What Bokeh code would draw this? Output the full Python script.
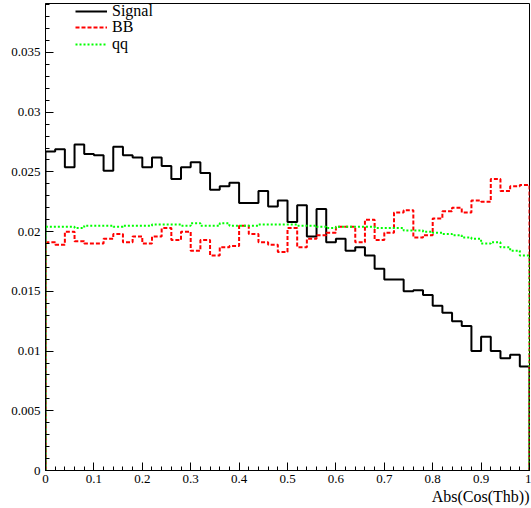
import numpy as np
from bokeh.plotting import figure
from bokeh.models import ColumnDataSource, FixedTicker, Legend, LegendItem, Title, Range1d
from bokeh.embed import file_html
from bokeh.resources import INLINE

# ---- data ----
x_min, x_max, n_bins = 0.0, 1.0, 50
signal = [0.0267, 0.0269, 0.0254, 0.0273, 0.0265, 0.0264, 0.0251, 0.0271, 0.0264, 0.0262,
          0.0254, 0.0262, 0.0255, 0.0244, 0.0254, 0.0258, 0.0249, 0.0235, 0.0238, 0.0241,
          0.0224, 0.0224, 0.0234, 0.0221, 0.0226, 0.0208, 0.0222, 0.0196, 0.0219, 0.0191,
          0.0194, 0.0184, 0.0187, 0.0180, 0.0169, 0.0160, 0.0160, 0.0150, 0.0151, 0.0147,
          0.0138, 0.0132, 0.0125, 0.0121, 0.0100, 0.0112, 0.0100, 0.0094, 0.0097, 0.0087]
bb = [0.0191, 0.0189, 0.0200, 0.0192, 0.0190, 0.0190, 0.0194, 0.0198, 0.0191, 0.0196,
      0.0190, 0.0196, 0.0203, 0.0193, 0.0200, 0.0184, 0.0193, 0.0180, 0.0187, 0.0188,
      0.0205, 0.0198, 0.0191, 0.0189, 0.0183, 0.0203, 0.0187, 0.0194, 0.0197, 0.0199,
      0.0204, 0.0204, 0.0191, 0.0210, 0.0193, 0.0199, 0.0216, 0.0218, 0.0195, 0.0197,
      0.0211, 0.0217, 0.0220, 0.0216, 0.0226, 0.0225, 0.0244, 0.0234, 0.0238, 0.0239]
qq = [0.0204, 0.0204, 0.0204, 0.0203, 0.0205, 0.0205, 0.0205, 0.0204, 0.0205, 0.0205,
      0.0205, 0.0206, 0.0206, 0.0206, 0.0205, 0.0207, 0.0205, 0.0205, 0.0207, 0.0205,
      0.0205, 0.0205, 0.0206, 0.0206, 0.0206, 0.0206, 0.0205, 0.0205, 0.0204, 0.0203,
      0.0204, 0.0204, 0.0204, 0.0204, 0.0203, 0.0203, 0.0203, 0.0201, 0.0201, 0.0200,
      0.0199, 0.0198, 0.0197, 0.0195, 0.0194, 0.0190, 0.0191, 0.0187, 0.0184, 0.0180]
series_names = ["Signal", "BB", "qq"]
x_ticks = [0, 0.1, 0.2, 0.3, 0.4, 0.5, 0.6, 0.7, 0.8, 0.9, 1.0]
x_tick_labels = ["0", "0.1", "0.2", "0.3", "0.4", "0.5", "0.6", "0.7", "0.8", "0.9", "1"]
y_ticks = [0, 0.005, 0.01, 0.015, 0.02, 0.025, 0.03, 0.035]
y_tick_labels = ["0", "0.005", "0.01", "0.015", "0.02", "0.025", "0.03", "0.035"]
x_title = "Abs(Cos(Thb))"
y_top = 0.0391

edges = [round(x_min + i * (x_max - x_min) / n_bins, 6) for i in range(n_bins + 1)]


def outline(vals):
    xs, ys = [edges[0]], [0.0]
    for i, v in enumerate(vals):
        xs += [edges[i], edges[i + 1]]
        ys += [v, v]
    xs.append(edges[-1])
    ys.append(0.0)
    return ColumnDataSource(dict(x=xs, y=ys))


FONT = "Liberation Serif"
AXIS_FONT = "'Liberation Serif', serif"

p = figure(width=531, height=508, output_backend="svg", toolbar_location=None,
           x_range=Range1d(x_min, x_max), y_range=Range1d(0, y_top),
           min_border_left=45, min_border_right=2, min_border_top=3, min_border_bottom=38)
p.background_fill_color = "white"
p.border_fill_color = "white"
p.outline_line_color = "black"
p.outline_line_width = 1
p.xgrid.visible = False
p.ygrid.visible = False

r_sig = p.line("x", "y", source=outline(signal), line_color="black", line_width=2)
r_bb = p.line("x", "y", source=outline(bb), line_color="#ff0000", line_width=2, line_dash="4 2")
r_qq = p.line("x", "y", source=outline(qq), line_color="#00ff00", line_width=2, line_dash="2 2")

minor_x = [round(i * 0.02, 4) for i in range(51)]
minor_y = [round(i * 0.001, 4) for i in range(40)]
p.xaxis.ticker = FixedTicker(ticks=x_ticks, minor_ticks=minor_x)
p.yaxis.ticker = FixedTicker(ticks=y_ticks, minor_ticks=minor_y)
p.xaxis.major_label_overrides = {t: l for t, l in zip(x_ticks, x_tick_labels)}
p.yaxis.major_label_overrides = {t: l for t, l in zip(y_ticks, y_tick_labels)}

p.axis.axis_line_color = "black"
p.axis.major_tick_line_color = "black"
p.axis.minor_tick_line_color = "black"
p.axis.major_tick_in = 8
p.axis.major_tick_out = 0
p.axis.minor_tick_in = 4
p.axis.minor_tick_out = 0
p.axis.major_label_text_font = AXIS_FONT
p.axis.major_label_text_font_size = "13px"
p.axis.major_label_text_color = "black"
p.xaxis.major_label_standoff = 4
p.yaxis.major_label_standoff = 5

p.add_layout(Title(text=x_title, align="right", text_font=FONT, text_font_size="16px",
                   text_font_style="normal", text_color="black", standoff=0, offset=0),
             "below")

# one single-entry legend per series, stacked like the ROOT legend box
legend_rows_y = [450, 434, 417]
for name, r, ly in zip(series_names, [r_sig, r_bb, r_qq], legend_rows_y):
    lg = Legend(items=[LegendItem(label=name, renderers=[r])],
                location=(30, ly), orientation="vertical",
                glyph_width=32, glyph_height=14, label_height=14, label_standoff=5,
                spacing=0, padding=0, margin=0,
                label_text_font=FONT, label_text_font_size="16px", label_text_color="black",
                background_fill_alpha=0, border_line_alpha=0)
    p.add_layout(lg)

open("out.html", "w").write(file_html(p, INLINE))
